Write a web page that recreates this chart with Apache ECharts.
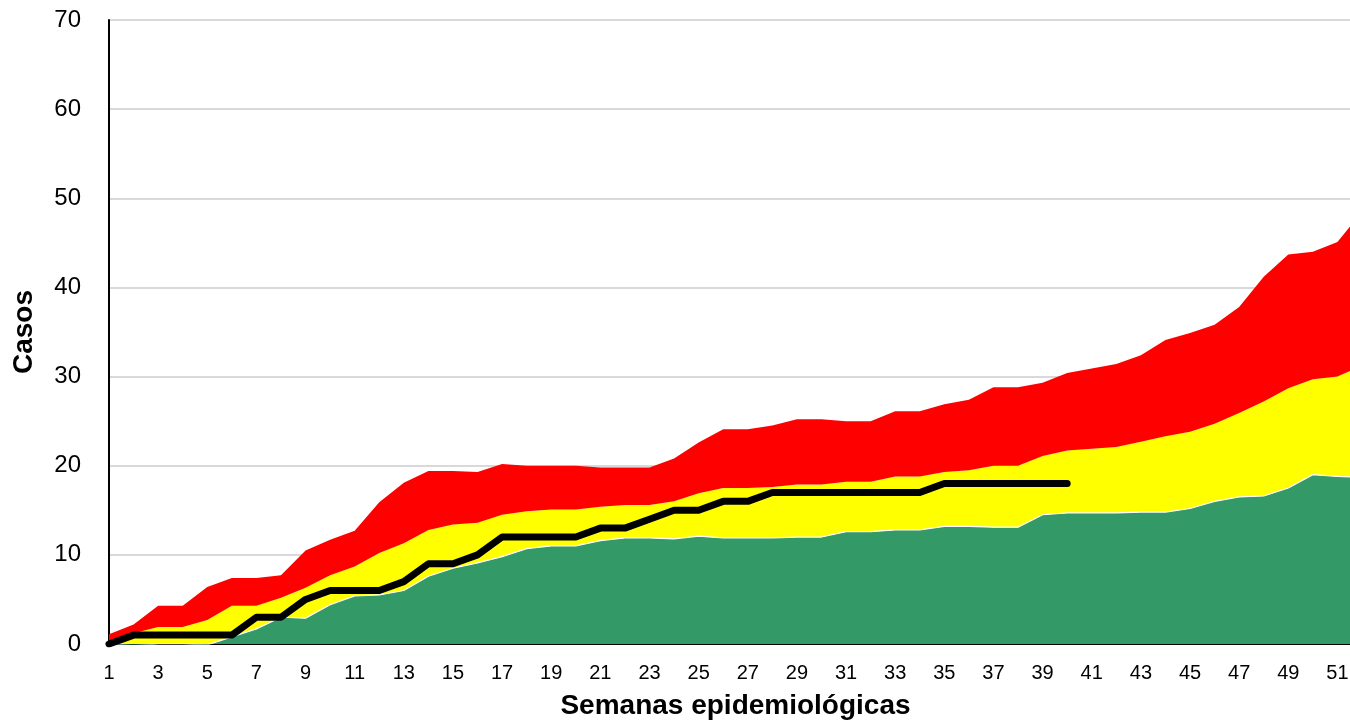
<!DOCTYPE html>
<html>
<head>
<meta charset="utf-8">
<script src="https://cdn.jsdelivr.net/npm/echarts@6/dist/echarts.min.js"></script>
<style>
  html, body { margin: 0; padding: 0; background: #fff; overflow: hidden; }
  /* the original plot runs a little past the right edge, week 52 is clipped */
  #chart { width: 1362px; height: 728px; }
</style>
</head>
<body>
<div id="chart"></div>
<script>
// semanas epidemiológicas 1..52
const weeks = Array.from({ length: 52 }, (_, i) => String(i + 1));

// límite inferior (zona de éxito)
const lowerBand = [
  0, -0.2, 0, 0, -0.1, 0.8, 1.7, 3.0, 2.9, 4.4,
  5.4, 5.5, 6.0, 7.6, 8.5, 9.1, 9.8, 10.7, 11.0, 11.0,
  11.6, 11.9, 11.9, 11.8, 12.1, 11.9, 11.9, 11.9, 12.0, 12.0,
  12.6, 12.6, 12.8, 12.8, 13.2, 13.2, 13.1, 13.1, 14.5, 14.7,
  14.7, 14.7, 14.8, 14.8, 15.2, 16.0, 16.5, 16.6, 17.5, 19.0,
  18.8, 18.7
];

// mediana (zona de seguridad)
const middleBand = [
  0.2, 1.2, 1.9, 1.9, 2.7, 4.3, 4.3, 5.2, 6.3, 7.7,
  8.7, 10.2, 11.3, 12.8, 13.4, 13.6, 14.5, 14.9, 15.1, 15.1,
  15.4, 15.6, 15.6, 16.0, 16.9, 17.5, 17.5, 17.6, 17.9, 17.9,
  18.2, 18.2, 18.8, 18.8, 19.3, 19.5, 20.0, 20.0, 21.1, 21.7,
  21.9, 22.1, 22.7, 23.3, 23.8, 24.7, 25.9, 27.2, 28.7, 29.7,
  30.0, 31.2
];

// límite superior (zona de alarma)
const upperBand = [
  1.1, 2.2, 4.3, 4.3, 6.4, 7.4, 7.4, 7.7, 10.5, 11.7,
  12.7, 15.9, 18.1, 19.4, 19.4, 19.3, 20.2, 20.0, 20.0, 20.0,
  19.8, 19.8, 19.8, 20.8, 22.6, 24.1, 24.1, 24.5, 25.2, 25.2,
  25.0, 25.0, 26.1, 26.1, 26.9, 27.4, 28.8, 28.8, 29.3, 30.4,
  30.9, 31.4, 32.4, 34.1, 34.9, 35.8, 37.8, 41.2, 43.7, 44.0,
  45.1, 48.5
];

// casos acumulados del año en curso
const currentCases = [
  0, 1, 1, 1, 1, 1, 3, 3, 5, 6,
  6, 6, 7, 9, 9, 10, 12, 12, 12, 12,
  13, 13, 14, 15, 15, 16, 16, 17, 17, 17,
  17, 17, 17, 17, 18, 18, 18, 18, 18, 18
];

const yellowPart = middleBand.map((v, i) => +(v - lowerBand[i]).toFixed(2));
const redPart = upperBand.map((v, i) => +(v - middleBand[i]).toFixed(2));

const font = "'Liberation Sans', Arial, sans-serif";

const chart = echarts.init(document.getElementById("chart"), null, { renderer: "canvas" });

chart.setOption({
  animation: false,
  backgroundColor: "#fff",
  grid: { left: 109, right: 0, top: 20, bottom: 84 },
  xAxis: {
    type: "category",
    data: weeks,
    boundaryGap: false,
    name: "Semanas epidemiológicas",
    nameLocation: "middle",
    nameGap: 48,
    nameTextStyle: { fontFamily: font, fontSize: 28, fontWeight: "bold", color: "#000" },
    axisLine: { lineStyle: { color: "#000", width: 2 } },
    axisTick: { show: false },
    axisLabel: { interval: 1, margin: 19, fontFamily: font, fontSize: 20, color: "#000" },
    splitLine: { show: false }
  },
  yAxis: {
    type: "value",
    min: 0,
    max: 70,
    interval: 10,
    name: "Casos",
    nameLocation: "middle",
    nameGap: 71,
    nameTextStyle: { fontFamily: font, fontSize: 28, fontWeight: "bold", color: "#000" },
    axisLine: { show: true, lineStyle: { color: "#000", width: 2 } },
    axisTick: { show: false },
    axisLabel: { margin: 28, fontFamily: font, fontSize: 24, color: "#000" },
    splitLine: { lineStyle: { color: "#d9d9d9", width: 2 } }
  },
  series: [
    {
      name: "Éxito",
      type: "line",
      stack: "bands",
      stackStrategy: "all",
      data: lowerBand,
      symbol: "none",
      lineStyle: { color: "#ffffff", width: 1.2 },
      areaStyle: { color: "#339966", opacity: 1 }
    },
    {
      name: "Seguridad",
      type: "line",
      stack: "bands",
      stackStrategy: "all",
      data: yellowPart,
      symbol: "none",
      lineStyle: { width: 0 },
      areaStyle: { color: "#ffff00", opacity: 1 }
    },
    {
      name: "Alarma",
      type: "line",
      stack: "bands",
      stackStrategy: "all",
      data: redPart,
      symbol: "none",
      lineStyle: { width: 0 },
      areaStyle: { color: "#ff0000", opacity: 1 }
    },
    {
      name: "Casos",
      type: "line",
      data: currentCases,
      symbol: "none",
      z: 5,
      lineStyle: { color: "#000", width: 7, cap: "round", join: "round" }
    }
  ]
});
</script>
</body>
</html>
